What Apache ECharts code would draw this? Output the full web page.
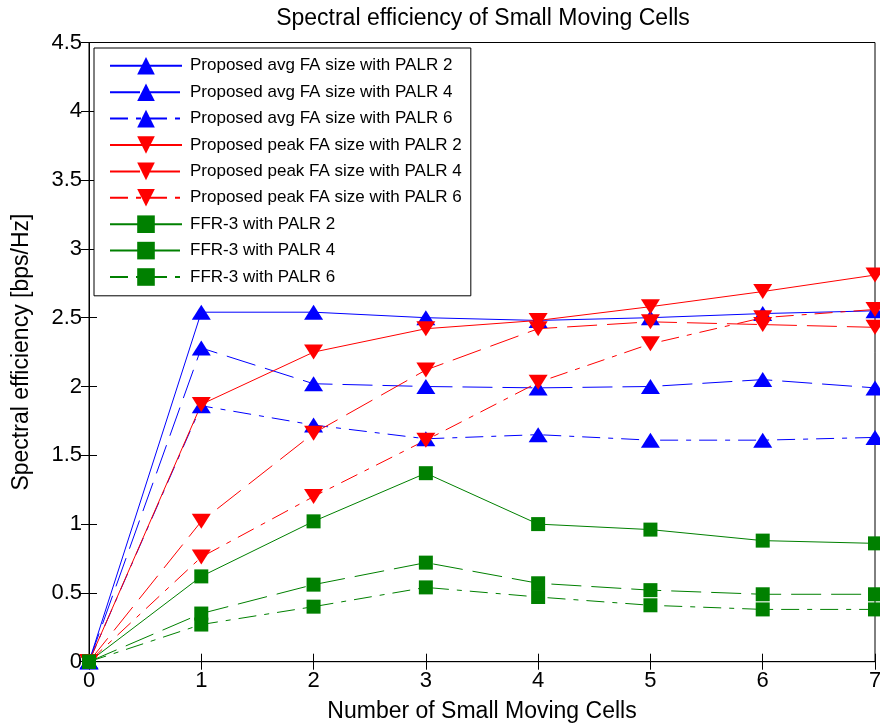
<!DOCTYPE html>
<head>
    <meta charset="utf-8">
    <title>Spectral efficiency</title>
    <style>
        html, body { margin: 0; padding: 0; background: #fff; }
    </style>
</head>
<body>
    <div id="main" style="width:880px;height:726px"></div>
    <script src="https://cdn.jsdelivr.net/npm/echarts@6/dist/echarts.min.js"></script>
    <script type="text/javascript">
var cells = [0, 1, 2, 3, 4, 5, 6, 7];

var avgPalr2 = [0, 2.54, 2.54, 2.50, 2.48, 2.50, 2.53, 2.55];
var avgPalr4 = [0, 2.28, 2.02, 2.00, 1.99, 2.00, 2.05, 1.99];
var avgPalr6 = [0, 1.86, 1.72, 1.62, 1.65, 1.61, 1.61, 1.63];

var peakPalr2 = [0, 1.87, 2.25, 2.42, 2.48, 2.58, 2.69, 2.81];
var peakPalr4 = [0, 1.02, 1.66, 2.12, 2.42, 2.47, 2.45, 2.43];
var peakPalr6 = [0, 0.76, 1.20, 1.61, 2.03, 2.31, 2.50, 2.56];

var ffrPalr2 = [0, 0.62, 1.02, 1.37, 1.00, 0.96, 0.88, 0.86];
var ffrPalr4 = [0, 0.35, 0.56, 0.72, 0.57, 0.52, 0.49, 0.49];
var ffrPalr6 = [0, 0.27, 0.40, 0.54, 0.47, 0.41, 0.38, 0.38];

var seriesNames = [
    'Proposed avg FA size with PALR 2',
    'Proposed avg FA size with PALR 4',
    'Proposed avg FA size with PALR 6',
    'Proposed peak FA size with PALR 2',
    'Proposed peak FA size with PALR 4',
    'Proposed peak FA size with PALR 6',
    'FFR-3 with PALR 2',
    'FFR-3 with PALR 4',
    'FFR-3 with PALR 6'
];

var font = "'Liberation Sans', Arial, sans-serif";
var dashed = [30, 10];
var dashDot = [18, 8, 5, 8];
var downTriangle = 'path://M0,0 L20,0 L10,15 Z';

function pairs(ys) {
    return cells.map(function (x, i) { return [x, ys[i]]; });
}

function line(name, ys, color, dash, symbol, size) {
    return {
        name: name,
        type: 'line',
        data: pairs(ys),
        symbol: symbol,
        symbolSize: size,
        showAllSymbol: true,
        clip: false,
        animation: false,
        itemStyle: { color: color, borderWidth: 0 },
        lineStyle: { color: color, width: 1, type: dash }
    };
}

var myChart = echarts.init(document.getElementById('main'));

var tri = [19, 15];
var sq = [14, 14];

// matlab style box: ticks point inward on all four sides
function boxAxis(extra) {
    var base = {
        type: 'value',
        axisLine: { show: true, lineStyle: { color: '#000', width: 1 } },
        axisTick: { show: true, inside: true, length: 8, lineStyle: { color: '#000' } },
        splitLine: { show: false }
    };
    return Object.assign(base, extra);
}

myChart.setOption({
    backgroundColor: '#fff',
    animation: false,
    title: {
        text: 'Spectral efficiency of Small Moving Cells',
        left: 478,
        top: 2,
        textAlign: 'center',
        textStyle: {
            fontFamily: font,
            fontSize: 23,
            fontWeight: 'normal',
            color: '#000'
        }
    },
    legend: {
        data: seriesNames,
        orient: 'vertical',
        left: 94,
        top: 48,
        itemWidth: 72,
        itemHeight: 22,
        itemGap: 8.8,
        padding: [9, 9, 10, 15],
        borderColor: '#000',
        borderWidth: 1,
        backgroundColor: '#fff',
        textStyle: {
            fontFamily: font,
            fontSize: 17,
            color: '#000',
            padding: [0, 0, 0, 3]
        }
    },
    grid: {
        left: 89,
        right: 5,
        top: 42.5,
        bottom: 64.3,
        outerBoundsMode: 'none',
        containLabel: false,
        show: true,
        borderColor: '#000',
        borderWidth: 1
    },
    xAxis: [
        boxAxis({
            min: 0, max: 7, interval: 1,
            name: 'Number of Small Moving Cells',
            nameLocation: 'middle',
            nameGap: 38,
            nameTextStyle: { fontFamily: font, fontSize: 23, color: '#000' },
            axisLabel: { fontFamily: font, fontSize: 22, color: '#000', margin: 8 }
        }),
        boxAxis({
            position: 'top',
            min: 0, max: 7, interval: 1,
            axisLabel: { show: false }
        })
    ],
    yAxis: [
        boxAxis({
            min: 0, max: 4.5, interval: 0.5,
            name: 'Spectral efficiency [bps/Hz]',
            nameLocation: 'middle',
            nameGap: 56,
            nameTextStyle: { fontFamily: font, fontSize: 23, color: '#000' },
            axisLabel: { fontFamily: font, fontSize: 22, color: '#000', margin: 7 }
        }),
        boxAxis({
            position: 'right',
            min: 0, max: 4.5, interval: 0.5,
            axisLabel: { show: false }
        })
    ],
    series: [
        line(seriesNames[0], avgPalr2, '#0000ff', 'solid', 'triangle', tri),
        line(seriesNames[1], avgPalr4, '#0000ff', dashed, 'triangle', tri),
        line(seriesNames[2], avgPalr6, '#0000ff', dashDot, 'triangle', tri),
        line(seriesNames[3], peakPalr2, '#ff0000', 'solid', downTriangle, tri),
        line(seriesNames[4], peakPalr4, '#ff0000', dashed, downTriangle, tri),
        line(seriesNames[5], peakPalr6, '#ff0000', dashDot, downTriangle, tri),
        line(seriesNames[6], ffrPalr2, '#008000', 'solid', 'rect', sq),
        line(seriesNames[7], ffrPalr4, '#008000', dashed, 'rect', sq),
        line(seriesNames[8], ffrPalr6, '#008000', dashDot, 'rect', sq)
    ]
});
    </script>
</body>
